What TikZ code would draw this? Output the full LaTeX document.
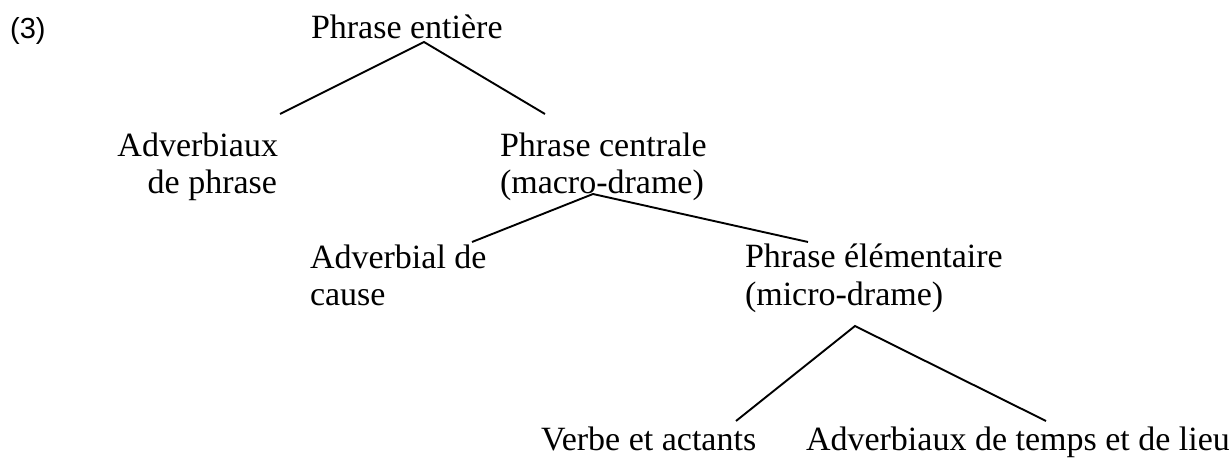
\documentclass[tikz,border=0pt]{standalone}
\usepackage{fontspec}
\setmainfont{Liberation Serif}
\newfontfamily\labelsans{Liberation Sans}
\begin{document}
\begin{tikzpicture}[x=1pt,y=-1pt,
  lbl/.style={inner sep=0pt,outer sep=0pt,anchor=base west,font=\fontsize{34}{40}\selectfont},
  lblr/.style={lbl,anchor=base east},
  edge/.style={draw=black,line width=1.9pt}]
\useasboundingbox (0,0) rectangle (1229,460);
\node[inner sep=0pt,anchor=base west,font=\labelsans\fontsize{29}{34}\selectfont] (num) at (10,39) {(3)};
\node[lbl] (pe) at (311,39) {Phrase entière};
\node[lblr] (ap1) at (278,156) {Adverbiaux};
\node[lblr] (ap2) at (277,193) {de phrase};
\node[lbl] (pc1) at (500,156) {Phrase centrale};
\node[lbl] (pc2) at (500,193) {(macro-drame)};
\node[lbl] (ac1) at (310,268) {Adverbial de};
\node[lbl] (ac2) at (310,305) {cause};
\node[lbl] (pel1) at (745,267) {Phrase élémentaire};
\node[lbl] (pel2) at (745,305) {(micro-drame)};
\node[lbl] (va) at (541,450) {Verbe et actants};
\node[lbl] (atl) at (806,450) {Adverbiaux de temps et de lieu};
\coordinate (peB) at (424,42);
\coordinate (apT) at (280,114);
\coordinate (pcT) at (545,114);
\coordinate (pcB) at (593,194);
\coordinate (acT) at (472,242);
\coordinate (pelT) at (808,242);
\coordinate (pelB) at (855,326);
\coordinate (vaT) at (736,421);
\coordinate (atlT) at (1046,421);
\draw[edge] (apT) -- (peB) -- (pcT);
\draw[edge] (acT) -- (pcB) -- (pelT);
\draw[edge] (vaT) -- (pelB) -- (atlT);
\end{tikzpicture}
\end{document}
